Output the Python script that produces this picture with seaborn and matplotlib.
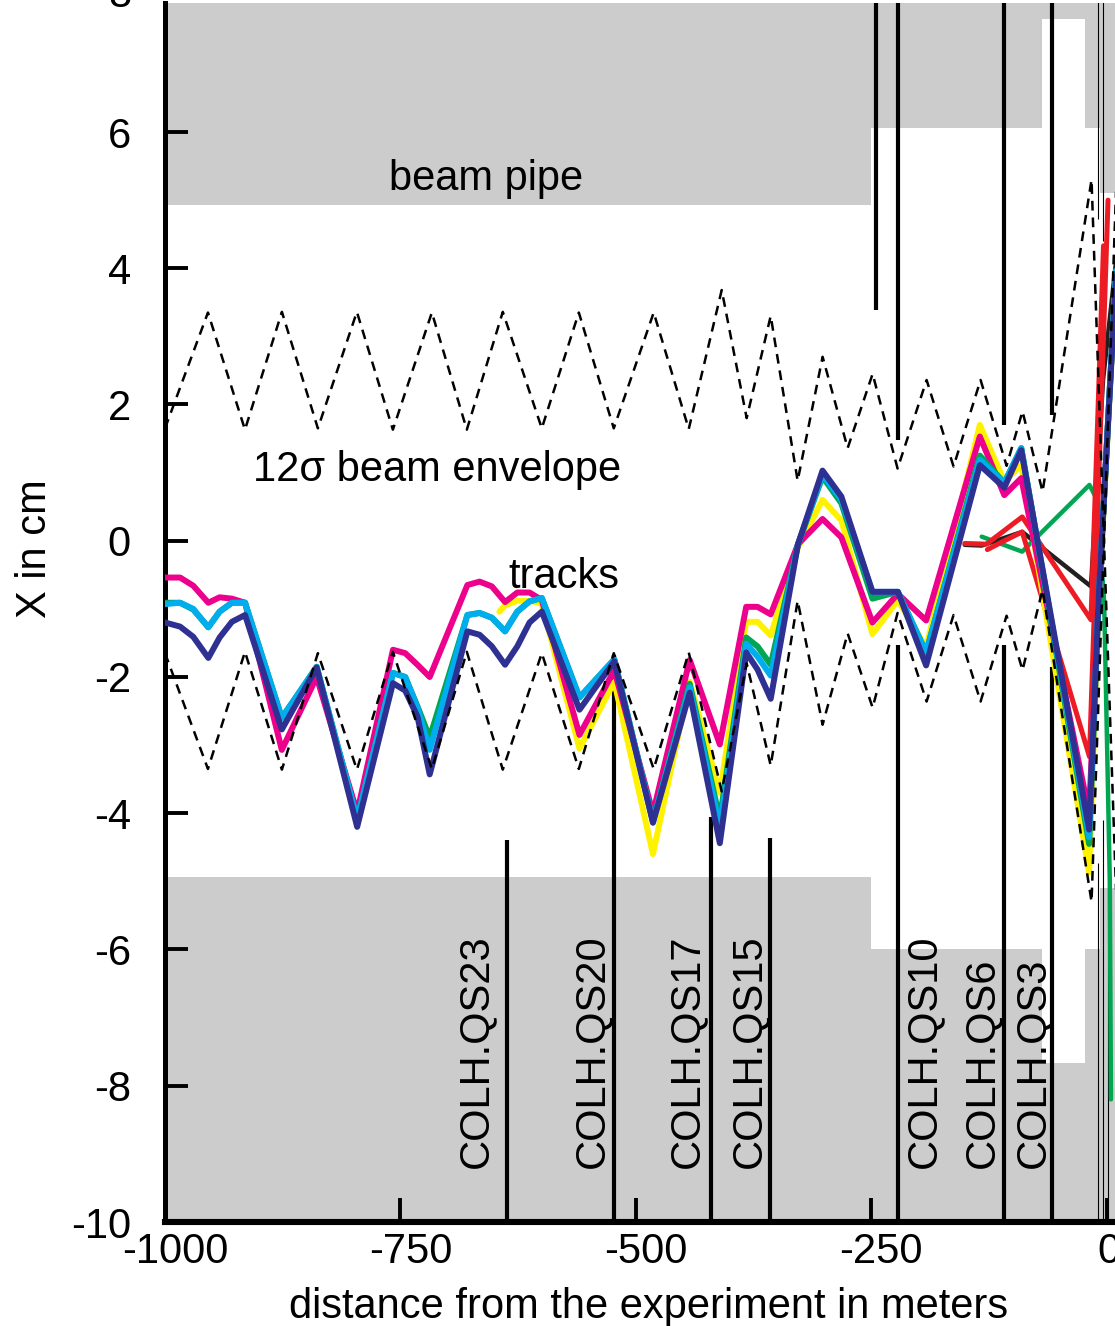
import numpy as np
import pandas as pd
import matplotlib
matplotlib.use("Agg")
import matplotlib.pyplot as plt
import matplotlib.transforms as mtransforms
import seaborn as sns

# ---------------- data ----------------
x_ticks = [-1000, -750, -500, -250, 0]
x_tick_labels = ["-1000", "-750", "-500", "-250", "0"]
y_ticks = [-10, -8, -6, -4, -2, 0, 2, 4, 6]
y_tick_labels = ["-10", "-8", "-6", "-4", "-2", "0", "2", "4", "6"]

# beam pipe aperture (step edges)
pipe_x = [-1000, -251, -69.5, -23.6, -7.7, 8.5]
pipe_upper = [4.93, 6.06, 7.66, 6.06, 5.1, 5.1]
pipe_lower = [-4.93, -6.0, -7.66, -6.0, -5.1, -5.1]

# 12 sigma beam envelope
env_x = [-1000, -954.4, -915.1, -875.9, -837.7, -796.3, -758.1, -716.7, -679.6, -641.4,
         -600.0, -560.7, -523.6, -481.2, -444.0, -409.0, -382.5, -357.0, -328.4, -301.9,
         -275.3, -248.8, -222.3, -191.5, -162.9, -134.2, -106.6, -89.7, -68.4, -16.4, 10.0]
env_upper = [1.65, 3.35, 1.63, 3.36, 1.65, 3.36, 1.63, 3.35, 1.63, 3.36,
             1.65, 3.35, 1.65, 3.35, 1.64, 3.68, 1.80, 3.30, 0.88, 2.70,
             1.36, 2.45, 1.06, 2.36, 1.09, 2.36, 1.10, 1.90, 0.72, 5.30, -5.30]
env_lower = [-1.65, -3.35, -1.63, -3.36, -1.65, -3.36, -1.63, -3.35, -1.63, -3.36,
             -1.65, -3.35, -1.65, -3.35, -1.64, -3.68, -1.80, -3.30, -0.88, -2.70,
             -1.36, -2.45, -1.06, -2.36, -1.09, -2.36, -1.10, -1.90, -0.72, -5.30, 5.30]

# tracks (common vertices)
track_x = [-1000, -984, -970, -954, -942, -929, -915, -876, -839, -796,
           -758, -745, -732, -719, -679, -666, -653, -639, -626, -613,
           -600, -560, -523, -482, -443, -411, -383, -371, -357, -328,
           -302, -282, -249, -222, -192, -135, -109, -91, -19, -9, 12]
track_magenta = [-0.54, -0.54, -0.66, -0.91, -0.83, -0.85, -0.91, -3.07, -2.00, -3.99,
                 -1.60, -1.65, -1.82, -2.00, -0.65, -0.60, -0.67, -0.90, -0.76, -0.76,
                 -0.87, -2.85, -1.90, -4.00, -1.75, -2.99, -0.97, -0.97, -1.08, -0.05,
                 0.32, 0.05, -1.20, -0.78, -1.17, 1.53, 0.67, 0.92, -4.00, -0.90, 4.6]
track_green = [-0.91, -0.91, -1.01, -1.27, -1.04, -0.91, -0.91, -2.60, -1.85, -4.09,
               -1.94, -2.00, -2.43, -2.89, -1.09, -1.06, -1.13, -1.33, -1.04, -0.89,
               -0.84, -2.30, -1.74, -4.12, -2.10, -4.09, -1.42, -1.55, -1.82, -0.05,
               0.94, 0.55, -0.85, -0.75, -1.64, 1.25, 0.85, 1.36, -4.45, -0.90, 4.6]
track_cyan = [-0.93, -0.91, -1.00, -1.27, -1.04, -0.91, -0.91, -2.60, -1.85, -4.09,
              -1.94, -2.00, -2.45, -3.07, -1.09, -1.06, -1.13, -1.33, -1.04, -0.89,
              -0.84, -2.30, -1.74, -4.12, -2.15, -4.20, -1.51, -1.70, -1.98, -0.05,
              0.97, 0.60, -0.75, -0.75, -1.64, 1.19, 0.85, 1.36, -4.35, -0.90, 4.6]
track_blue = [-1.20, -1.26, -1.41, -1.72, -1.42, -1.19, -1.09, -2.77, -1.86, -4.20,
              -2.09, -2.20, -2.58, -3.43, -1.33, -1.38, -1.55, -1.82, -1.55, -1.20,
              -1.04, -2.48, -1.77, -4.14, -2.23, -4.44, -1.64, -1.89, -2.32, -0.05,
              1.03, 0.65, -0.75, -0.75, -1.83, 1.11, 0.78, 1.33, -4.24, -0.87, 4.5]

yellow_x = [-645, -639, -626, -613, -600, -560, -523, -482, -443, -411,
            -383, -371, -357, -328, -302, -282, -249, -222, -192, -135,
            -109, -91, -19, -9, 12]
track_yellow = [-1.04, -0.95, -0.88, -0.88, -0.92, -3.05, -2.07, -4.60, -2.07, -3.70,
                -1.19, -1.19, -1.39, -0.10, 0.60, 0.30, -1.37, -0.87, -1.57, 1.70,
                0.87, 1.11, -4.87, -1.00, 4.6]

red_a_x = [-151, -128, -90, -17, -3.7]
red_a_y = [-0.04, -0.05, 0.35, -1.16, 4.33]
red_b_x = [-127, -109, -90, -18.6, 1.1]
red_b_y = [-0.13, 0.0, 0.13, -3.17, 5.0]
black_x = [-151, -133, -90, -17, -4.2, 12]
black_y = [-0.06, -0.07, 0.13, -0.67, 2.36, 4.4]
green2_x = [-133, -90, -18.6, -10.6, -3.0, 3.0, 4.2]
green2_y = [0.06, -0.16, 0.82, 0.60, -0.90, -5.0, -8.2]

# quadrupole markers
quad_bottom_x = [-636.9, -523.4, -420.4, -357.7, -221.9, -109.3, -58.4]
quad_bottom_top = [-4.39, -1.67, -4.06, -4.36, -1.53, -1.53, -1.86]
quad_top_x = [-245.2, -221.9, -109.3, -58.4]
quad_top_bottom = [3.39, 1.48, 1.70, 1.85]
thin_top_x = [-9.6, -4.2]
thin_top_bottom = [4.72, 4.4]
thin_bottom_x = [-9.6, -4.2, 1.1]
thin_bottom_top = [-4.73, -4.1, -4.1]

quad_labels = ["COLH.QS23", "COLH.QS20", "COLH.QS17", "COLH.QS15",
               "COLH.QS10", "COLH.QS6", "COLH.QS3"]
quad_label_x = [-670, -547, -446, -380, -194.5, -133, -78]

# ---------------- style ----------------
sns.set_style("white")
plt.rcParams["font.family"] = ["Liberation Sans", "DejaVu Sans"]
plt.rcParams["axes.unicode_minus"] = False
plt.rcParams["text.color"] = "black"
plt.rcParams["axes.labelcolor"] = "black"
plt.rcParams["xtick.color"] = "black"
plt.rcParams["ytick.color"] = "black"

W, H = 1115, 1326
fig = plt.figure(figsize=(W / 100, H / 100), dpi=100)
ax_top_px = 3
ax = fig.add_axes([165 / W, (H - 1222) / H, (W - 165) / W, (1222 - ax_top_px) / H])

x_lo, x_hi = -1000, 8.5
y_lo = -10
y_hi = (540.75 - ax_top_px) / 68.125
ax.set_xlim(x_lo, x_hi)
ax.set_ylim(y_lo, y_hi)

GRAY = "#cccccc"
ax.fill_between(pipe_x, pipe_upper, 20, step="post", color=GRAY, lw=0, zorder=0)
ax.fill_between(pipe_x, -20, pipe_lower, step="post", color=GRAY, lw=0, zorder=0)

# quadrupole lines
ax.vlines(quad_bottom_x, y_lo, quad_bottom_top, colors="black", lw=3.0, zorder=2)
ax.vlines(quad_top_x, quad_top_bottom, 20, colors="black", lw=3.0, zorder=2)
ax.vlines(thin_top_x, thin_top_bottom, 20, colors="black", lw=0.8, zorder=2)
ax.vlines(thin_bottom_x, y_lo, thin_bottom_top, colors="black", lw=0.8, zorder=2)

# secondary tracks
sec_lw = 3.2
sns.lineplot(x=green2_x, y=green2_y, ax=ax, color="#00A651", lw=sec_lw, sort=False,
             estimator=None, zorder=3)
sns.lineplot(x=black_x, y=black_y, ax=ax, color="#231F20", lw=sec_lw, sort=False,
             estimator=None, zorder=3)
sns.lineplot(x=red_a_x, y=red_a_y, ax=ax, color="#ED1C24", lw=sec_lw + 0.4, sort=False,
             estimator=None, zorder=3)
sns.lineplot(x=red_b_x, y=red_b_y, ax=ax, color="#ED1C24", lw=sec_lw + 0.4, sort=False,
             estimator=None, zorder=3)

# main tracks
main_lw = 4.3
sns.lineplot(x=yellow_x, y=track_yellow, ax=ax, color="#FFF200", lw=main_lw, sort=False,
             estimator=None, zorder=4)
sns.lineplot(x=track_x, y=track_magenta, ax=ax, color="#EC008C", lw=main_lw, sort=False,
             estimator=None, zorder=4)
sns.lineplot(x=track_x, y=track_green, ax=ax, color="#00A651", lw=main_lw, sort=False,
             estimator=None, zorder=4)
sns.lineplot(x=track_x, y=track_cyan, ax=ax, color="#00AEEF", lw=main_lw, sort=False,
             estimator=None, zorder=4)
sns.lineplot(x=track_x, y=track_blue, ax=ax, color="#2E3192", lw=main_lw, sort=False,
             estimator=None, zorder=4)

# envelope
env_lw = 1.8
dash = (0, (7 / env_lw, 5 / env_lw))
sns.lineplot(x=env_x, y=env_upper, ax=ax, color="black", lw=env_lw, linestyle=dash,
             sort=False, estimator=None, zorder=5)
sns.lineplot(x=env_x, y=env_lower, ax=ax, color="black", lw=env_lw, linestyle=dash,
             sort=False, estimator=None, zorder=5)

# texts
FS = 30
ax.text(-659, 5.15, "beam pipe", fontsize=FS, ha="center", va="baseline", zorder=6)
ax.text(-906.6, 0.87, "12\u03c3 beam envelope", fontsize=FS, ha="left", va="baseline", zorder=6)
ax.text(-576.4, -0.69, "tracks", fontsize=FS, ha="center", va="baseline", zorder=6)
for lab, xx in zip(quad_labels, quad_label_x):
    ax.text(xx, -9.2, lab, fontsize=FS, rotation=90, ha="center", va="bottom", zorder=6)

# axes styling
for s in ["top", "right"]:
    ax.spines[s].set_visible(False)
ax.spines["left"].set_linewidth(3.6)
ax.spines["bottom"].set_linewidth(4.4)
ax.spines["left"].set_color("black")
ax.spines["bottom"].set_color("black")
ax.set_xticks(x_ticks)
ax.set_xticklabels(x_tick_labels)
ax.set_yticks(y_ticks)
ax.set_yticklabels(y_tick_labels)
ax.tick_params(axis="x", direction="in", length=17, width=2.8, labelsize=FS, pad=7,
               color="black", labelcolor="black", bottom=True)
ax.tick_params(axis="y", direction="in", length=16.5, width=2.8, labelsize=FS, pad=24.5,
               color="black", labelcolor="black", left=True)
ax.grid(False)

offs = [10, 10, 10, 9, 2]
for lab, o in zip(ax.get_xticklabels(), offs):
    lab.set_transform(lab.get_transform() +
                      mtransforms.ScaledTranslation(o / 100, 0, fig.dpi_scale_trans))

ax.annotate("8", xy=(0, 8), xycoords=("axes fraction", "data"), xytext=(-24.5, 0),
            textcoords="offset points", ha="right", va="center", fontsize=FS,
            color="black", annotation_clip=False)

ax.set_xlabel("distance from the experiment in meters", fontsize=FS, color="black")
ax.set_ylabel("X in cm", fontsize=FS, color="black")
ax.xaxis.label.set_va("center")
ax.yaxis.label.set_va("center")
ax.xaxis.set_label_coords(0.5095, -0.0698)
ax.yaxis.set_label_coords(-0.1368, 0.552)

fig.savefig("out.png", dpi=100)
